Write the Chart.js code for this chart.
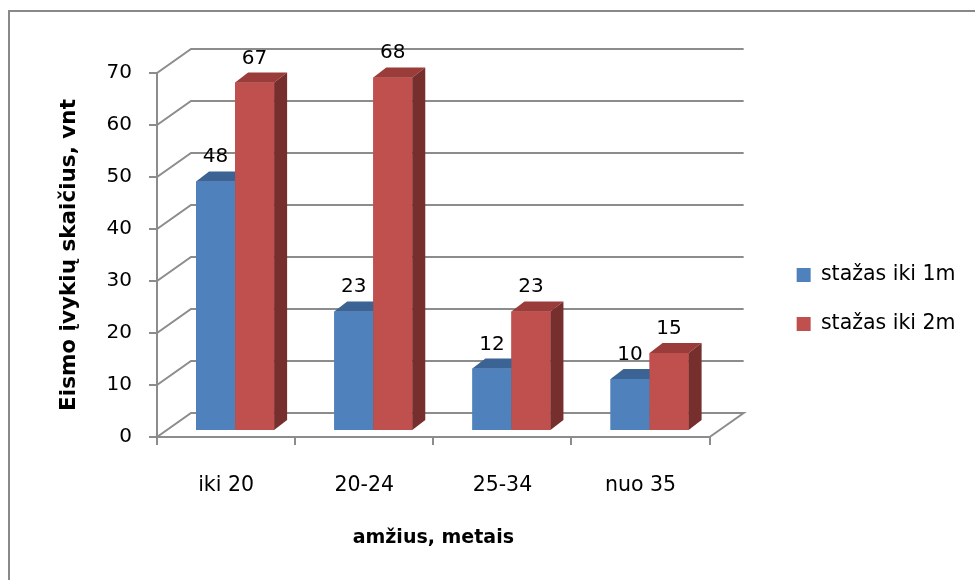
<!DOCTYPE html>
<html>
<head>
<meta charset="utf-8">
<script src="https://cdn.jsdelivr.net/npm/chart.js@4"></script>
<style>
  html, body { margin: 0; padding: 0; background: #fff; }
  canvas { display: block; }
</style>
</head>
<body>
<canvas id="chart" width="975" height="580"></canvas>
<script>
// Road accidents by driver age and driving experience
const ageGroups = ['iki 20', '20-24', '25-34', 'nuo 35'];
const upToOneYear = [48, 23, 12, 10];
const upToTwoYears = [67, 68, 23, 15];
const seriesNames = ['stažas iki 1m', 'stažas iki 2m'];
const yTickValues = [0, 10, 20, 30, 40, 50, 60, 70];
const yAxisTitle = 'Eismo įvykių skaičius, vnt';
const xAxisTitle = 'amžius, metais';

const GRID = '#8C8C8C';
const FONT = 'DejaVu Sans';
const WALL = { dx: 34, dy: -24 };      // back wall offset of the 3D box
const BAR_SHIFT = { dx: 9, dy: -6 };   // bars stand a little behind the front axis
const BAR_DEPTH = { dx: 13, dy: -10 }; // depth of each bar prism

const faceColors = [
  { top: '#3B6394', side: '#375C89' },
  { top: '#9A3C39', side: '#772F2D' }
];

// legend geometry: the legend box is sized to its widest label
const LEGEND_FONT = 20.5, LEGEND_BOX = 14, LEGEND_PAD = 28.5;
const LEGEND_GAP = 58.5;        // space between plot and legend
const PLOT_RIGHT = 709;         // right edge of the front plane
const measure = document.createElement('canvas').getContext('2d');
measure.font = LEGEND_FONT + 'px "' + FONT + '"';
const legendTextW = Math.max(...seriesNames.map(s => measure.measureText(s).width));
const legendW = Math.ceil(LEGEND_PAD + LEGEND_BOX + LEGEND_FONT / 2 + legendTextW + 10);
const rightPad = Math.max(0, 975 - PLOT_RIGHT - LEGEND_GAP - legendW);

Chart.defaults.font.family = FONT;
Chart.defaults.font.size = 20;
Chart.defaults.color = '#000';

const box3d = {
  id: 'box3d',
  beforeDraw(chart) {
    const { ctx } = chart;
    ctx.save();
    ctx.strokeStyle = '#898989';
    ctx.lineWidth = 2;
    ctx.strokeRect(9, 11, 2000, 2000);
    ctx.restore();
  },
  beforeDatasetsDraw(chart) {
    const { ctx, chartArea: a, scales: { y } } = chart;
    ctx.save();
    ctx.strokeStyle = GRID;
    ctx.lineWidth = 2;
    y.ticks.forEach(t => {
      const py = y.getPixelForValue(t.value);
      ctx.beginPath();
      ctx.moveTo(a.left, py);
      ctx.lineTo(a.left + WALL.dx, py + WALL.dy);
      ctx.lineTo(a.right + WALL.dx, py + WALL.dy);
      if (t.value === y.min) ctx.lineTo(a.right, py);
      ctx.stroke();
    });
    ctx.restore();
    ctx.save();
    ctx.translate(BAR_SHIFT.dx, BAR_SHIFT.dy);
  },
  afterDatasetsDraw(chart) {
    const { ctx } = chart;
    const metas = chart.data.datasets.map((d, i) => chart.getDatasetMeta(i));
    const n = chart.data.labels.length;
    for (let i = 0; i < n; i++) {
      metas.forEach((meta, di) => {
        const bar = meta.data[i];
        if (!bar) return;
        bar.draw(ctx);
        const { x, y, base, width } = bar.getProps(['x', 'y', 'base', 'width'], true);
        const l = x - width / 2, r = x + width / 2;
        ctx.fillStyle = faceColors[di].top;
        ctx.beginPath();
        ctx.moveTo(l, y);
        ctx.lineTo(l + BAR_DEPTH.dx, y + BAR_DEPTH.dy);
        ctx.lineTo(r + BAR_DEPTH.dx, y + BAR_DEPTH.dy);
        ctx.lineTo(r, y);
        ctx.closePath();
        ctx.fill();
        ctx.fillStyle = faceColors[di].side;
        ctx.beginPath();
        ctx.moveTo(r, y);
        ctx.lineTo(r + BAR_DEPTH.dx, y + BAR_DEPTH.dy);
        ctx.lineTo(r + BAR_DEPTH.dx, base + BAR_DEPTH.dy);
        ctx.lineTo(r, base);
        ctx.closePath();
        ctx.fill();
      });
    }
    // value labels above each bar
    ctx.fillStyle = '#000';
    ctx.font = '20px "' + FONT + '"';
    ctx.textAlign = 'center';
    ctx.textBaseline = 'alphabetic';
    metas.forEach((meta, di) => {
      const values = chart.data.datasets[di].data;
      meta.data.forEach((bar, i) => {
        ctx.fillText(String(values[i]), bar.x, bar.y - 19);
      });
    });
    ctx.restore();
  }
};

new Chart(document.getElementById('chart'), {
  type: 'bar',
  data: {
    labels: ageGroups,
    datasets: [
      { label: seriesNames[0], data: upToOneYear, backgroundColor: '#4F81BD', borderWidth: 0, clip: false },
      { label: seriesNames[1], data: upToTwoYears, backgroundColor: '#C0504D', borderWidth: 0, clip: false }
    ]
  },
  options: {
    responsive: false,
    animation: false,
    devicePixelRatio: 1,
    categoryPercentage: 0.565,
    barPercentage: 1,
    layout: { padding: { top: 19, right: rightPad, bottom: 0, left: 0 } },
    plugins: {
      tooltip: { enabled: false },
      legend: {
        position: 'right',
        align: 'center',
        maxWidth: legendW,
        labels: { boxWidth: LEGEND_BOX, boxHeight: LEGEND_BOX, padding: LEGEND_PAD, color: '#000', font: { size: LEGEND_FONT } }
      }
    },
    scales: {
      x: {
        offset: true,
        afterFit: s => { s.height = 143; },
        grid: { offset: true, drawOnChartArea: false, drawTicks: true, tickLength: 8, color: GRID, lineWidth: 2 },
        border: { display: true, color: GRID, width: 2 },
        ticks: { padding: 28, maxRotation: 0, color: '#000', font: { size: 20.5 } },
        title: { display: true, text: xAxisTitle, color: '#000', font: { size: 19, weight: 'bold' }, padding: { top: 0, bottom: 31 } }
      },
      xTop: {
        type: 'category',
        position: 'top',
        afterFit: s => { s.height = 54; },
        grid: { display: false },
        border: { display: false },
        ticks: { display: false }
      },
      y: {
        min: 0,
        max: 70,
        afterBuildTicks: s => { s.ticks = yTickValues.map(v => ({ value: v })); },
        afterFit: s => { s.width = 157; },
        grid: { drawOnChartArea: false, drawTicks: true, tickLength: 8, color: GRID, lineWidth: 2 },
        border: { display: true, color: GRID, width: 2 },
        ticks: { padding: 17, color: '#000', font: { size: 20 } },
        title: { display: true, text: yAxisTitle, color: '#000', font: { size: 21.5, weight: 'bold' }, padding: { top: 57, bottom: 0 } }
      },
      yRight: {
        type: 'linear',
        position: 'right',
        afterFit: s => { s.width = LEGEND_GAP; },
        grid: { display: false },
        border: { display: false },
        ticks: { display: false }
      }
    }
  },
  plugins: [box3d]
});
</script>
</body>
</html>
